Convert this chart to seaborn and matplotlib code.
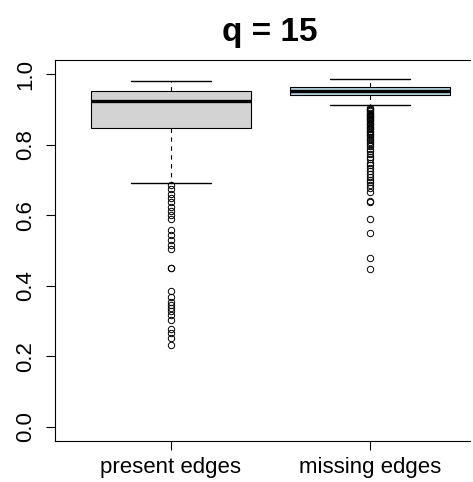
import matplotlib
matplotlib.use("Agg")
import matplotlib.pyplot as plt
import seaborn as sns
import pandas as pd

# ─── Dados ────────────────────────────────────────────────────────────────────
grupos = ["present edges", "missing edges"]
cores = ["#D3D3D3", "#ADD8E6"]

# resumo de cinco números: whisker inferior, Q1, mediana, Q3, whisker superior
resumo_present = [0.690, 0.846, 0.925, 0.951, 0.979]
resumo_missing = [0.911, 0.940, 0.953, 0.963, 0.987]

outliers_present = [0.685, 0.674, 0.660, 0.648, 0.636, 0.624, 0.613, 0.601,
                    0.589, 0.558, 0.544, 0.530, 0.516, 0.505, 0.451, 0.449,
                    0.385, 0.368, 0.354, 0.346, 0.337, 0.329, 0.317, 0.303,
                    0.278, 0.266, 0.252, 0.232]
outliers_missing = [0.903, 0.900, 0.897, 0.894, 0.891, 0.888, 0.885, 0.882,
                    0.879, 0.876, 0.873, 0.870, 0.866, 0.862, 0.858, 0.855,
                    0.851, 0.847, 0.843, 0.839, 0.835, 0.831, 0.826, 0.822,
                    0.817, 0.812, 0.807, 0.801, 0.795, 0.788, 0.781, 0.774,
                    0.766, 0.758, 0.749, 0.741, 0.733, 0.724, 0.716, 0.708,
                    0.701, 0.694, 0.686, 0.677, 0.666, 0.639, 0.637, 0.590,
                    0.550, 0.479, 0.448]

y_ticks = [0.0, 0.2, 0.4, 0.6, 0.8, 1.0]
y_labels = ["0.0", "0.2", "0.4", "0.6", "0.8", "1.0"]


def montar(resumo, outliers, m=200):
    # valores repetidos para que o seaborn calcule os mesmos quartis
    lo, q1, med, q3, hi = resumo
    return outliers + [lo] + [q1] * m + [med] * m + [q3] * m + [hi]


linhas = []
for g, res, out in [(grupos[0], resumo_present, outliers_present),
                    (grupos[1], resumo_missing, outliers_missing)]:
    for v in montar(res, out):
        linhas.append({"grupo": g, "valor": v})
df = pd.DataFrame(linhas)

# ─── Estilo ───────────────────────────────────────────────────────────────────
sns.set_style("white")
plt.rcParams["font.family"] = ["Liberation Sans", "DejaVu Sans"]
plt.rcParams["text.color"] = "black"

fig = plt.figure(figsize=(4.73, 4.82), dpi=100)
# o quadro do R passa da borda direita da imagem: eixo termina na borda
ax = fig.add_axes([0.1163, 0.0851, 0.8816, 0.7905])

sns.boxplot(data=df, x="grupo", y="valor", hue="grupo", order=grupos,
            palette=cores, legend=False, width=0.8, whis=1.5, ax=ax,
            linecolor="black", linewidth=0.8,
            medianprops={"color": "black", "linewidth": 2.4},
            whiskerprops={"color": "black", "linewidth": 0.8,
                          "linestyle": (0, (4, 4))},
            capprops={"color": "black", "linewidth": 1.0},
            flierprops={"marker": "o", "markerfacecolor": "none",
                        "markeredgecolor": "black", "markersize": 4.6,
                        "markeredgewidth": 0.7})

ax.set_xlim(-0.583, 1.513)
ax.set_ylim(-0.04, 1.04)
ax.set_yticks(y_ticks)
ax.set_yticklabels(y_labels, rotation=90, va="center")
ax.set_xlabel("")
ax.set_ylabel("")

ax.tick_params(axis="both", direction="out", length=6.5, width=0.8,
               colors="black", labelsize=16, left=True, bottom=True)
ax.tick_params(axis="y", pad=7)
ax.tick_params(axis="x", pad=5)
for s in ax.spines.values():
    s.set_color("black")
    s.set_linewidth(0.8)
ax.spines["right"].set_visible(False)
ax.spines["top"].set_bounds(-0.583, 1.505)
ax.spines["bottom"].set_bounds(-0.583, 1.505)

# título centrado na região completa do gráfico do R
ax.set_title("q = 15", fontsize=24, fontweight="bold", color="black",
             pad=14, x=0.516)

fig.savefig("out.png", dpi=100)
plt.close()
